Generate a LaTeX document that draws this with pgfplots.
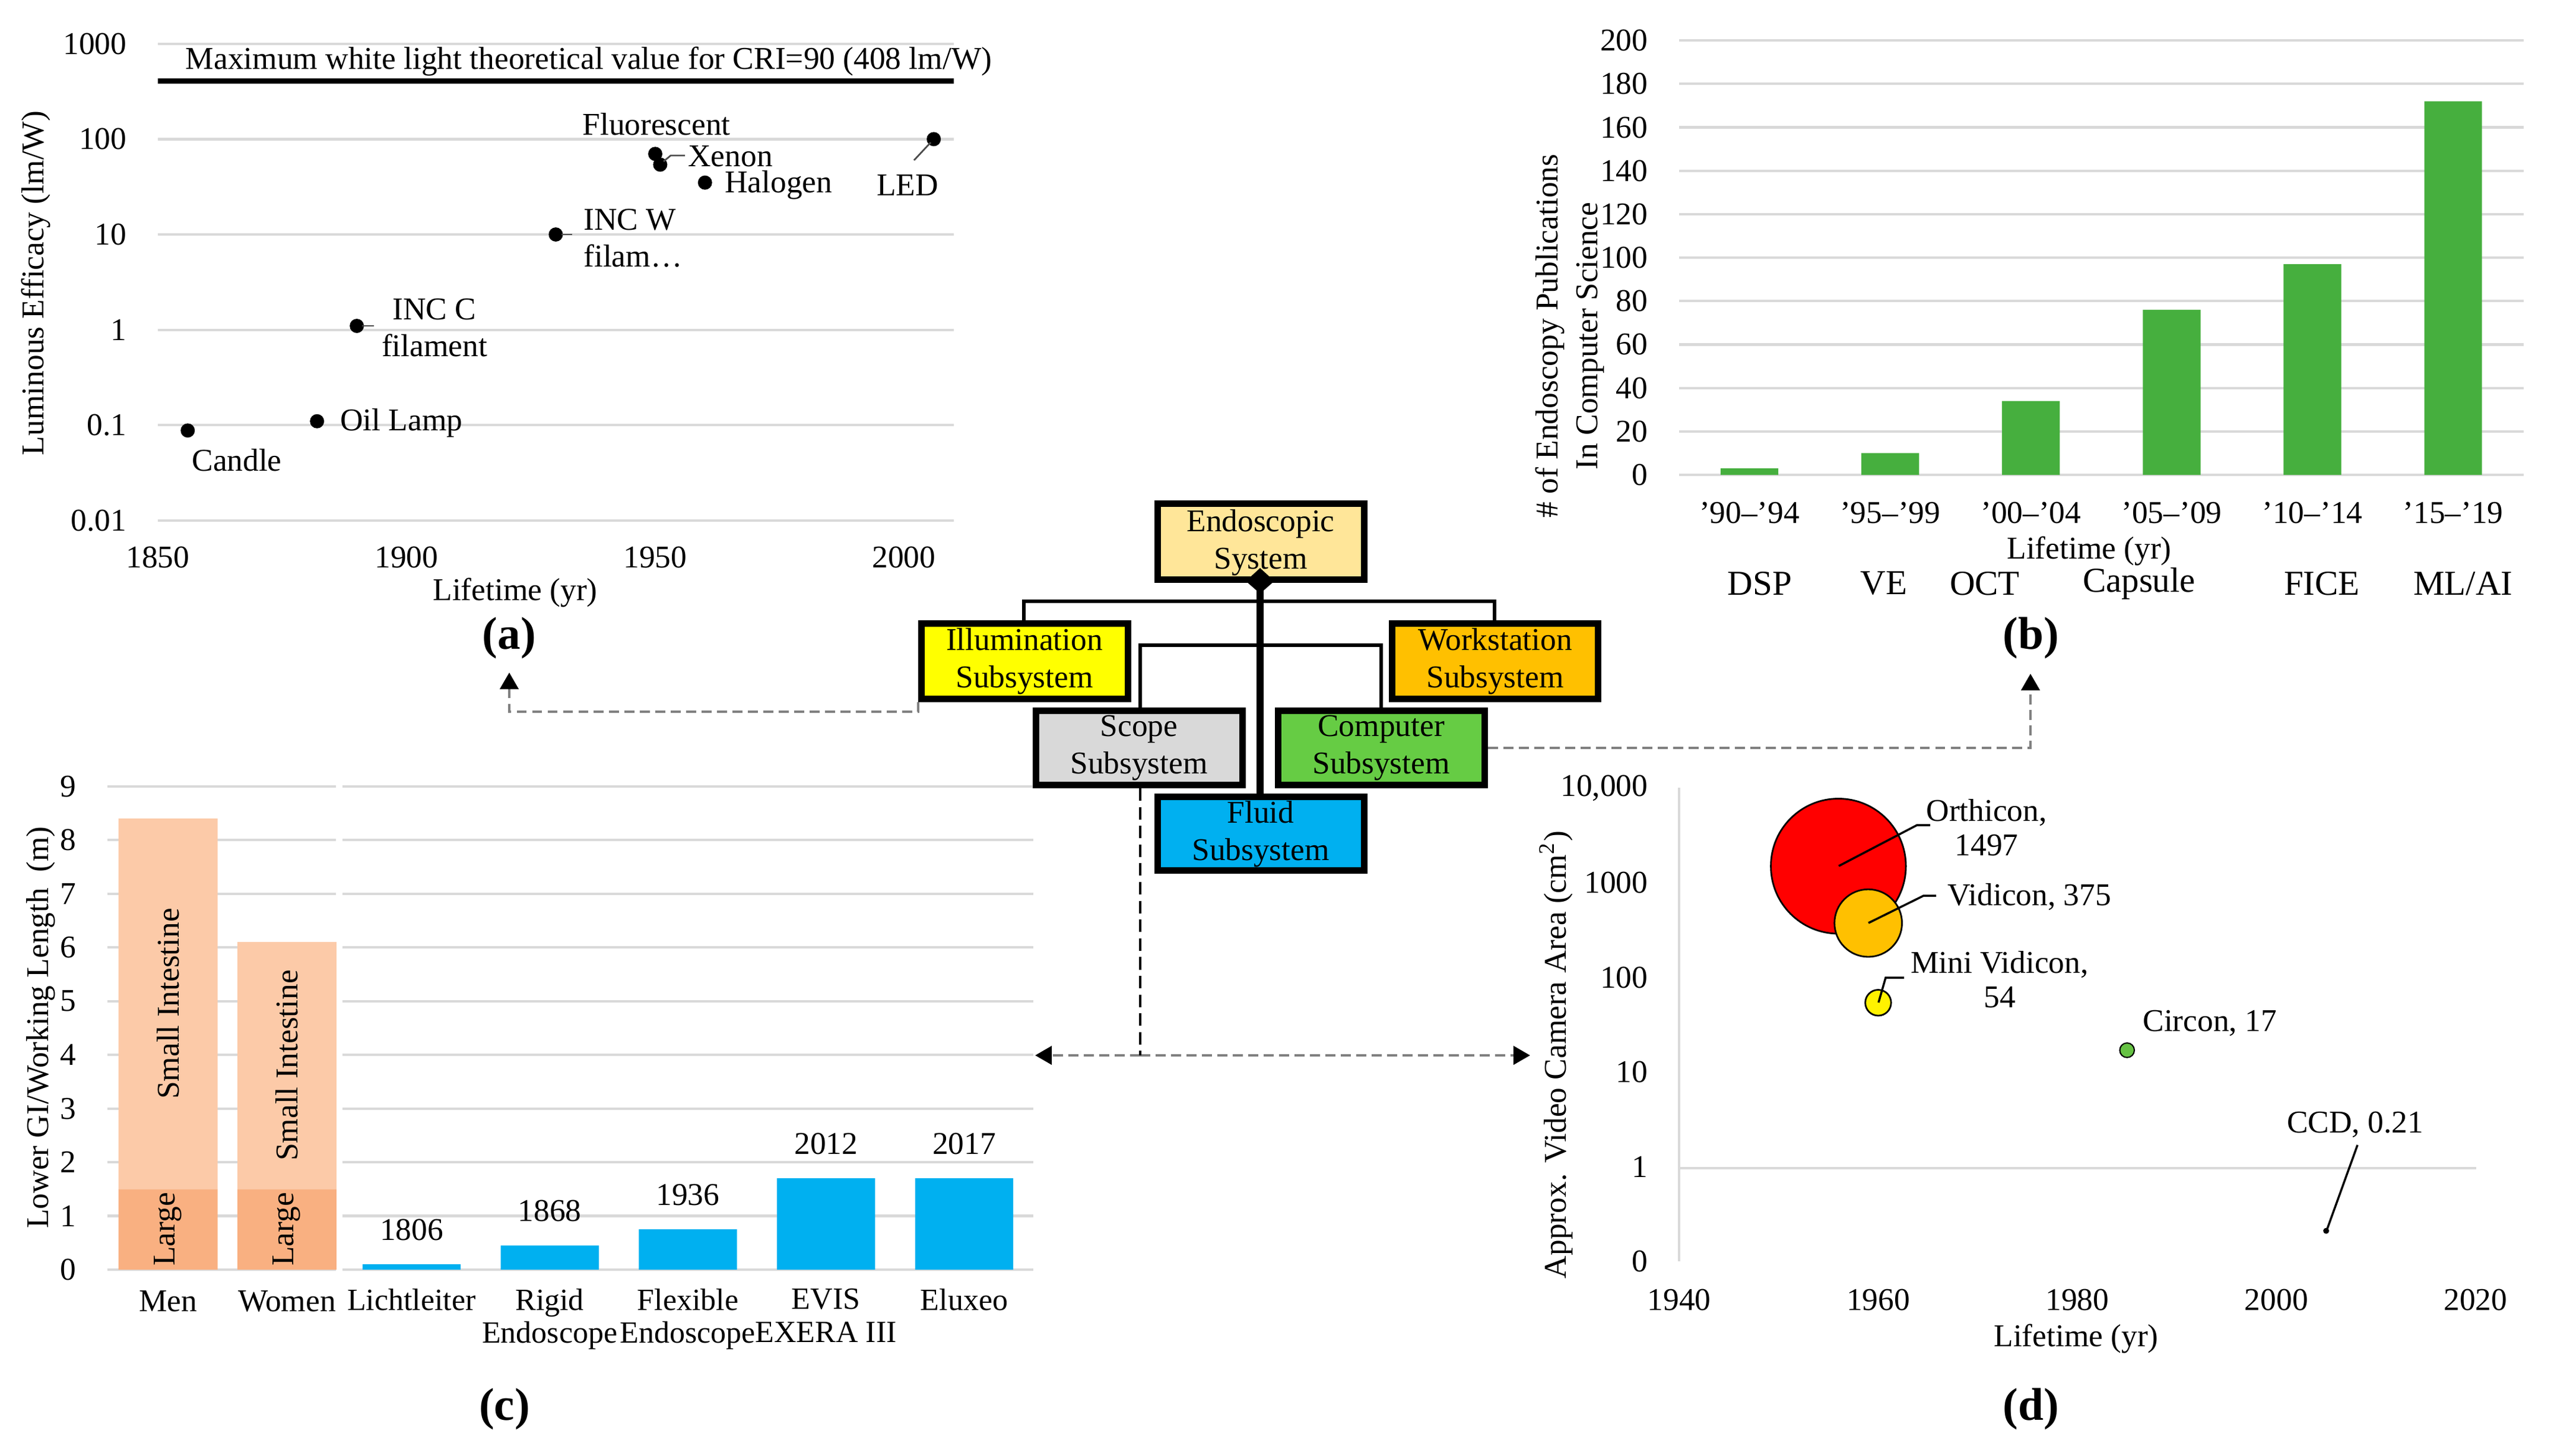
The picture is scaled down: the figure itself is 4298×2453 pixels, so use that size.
\documentclass[border=0pt]{standalone}
\usepackage{fontspec}
\setmainfont{Liberation Serif}
\usepackage{pgfplots}
\pgfplotsset{compat=1.18}
\usetikzlibrary{arrows.meta}

\definecolor{gridgray}{HTML}{D9D9D9}
\definecolor{barGreen}{HTML}{46AF3E}
\definecolor{barBlue}{HTML}{00B0F0}
\definecolor{smallInt}{HTML}{FCCAA8}
\definecolor{largeInt}{HTML}{F9B081}
\definecolor{boxTan}{HTML}{FFE699}
\definecolor{boxYellow}{HTML}{FFFF00}
\definecolor{boxOrange}{HTML}{FFC000}
\definecolor{boxGray}{HTML}{D9D9D9}
\definecolor{boxGreen}{HTML}{66CC44}
\definecolor{dashGray}{HTML}{808080}
\definecolor{circonGreen}{HTML}{66C244}

\newcommand{\txt}{\fontsize{7.6}{8.9}\selectfont}
\newcommand{\lab}{\fontsize{11}{13}\selectfont\bfseries}

\pgfplotsset{
  panel/.style={
    scale only axis,
    anchor=south west,
    axis line style={draw=none},
    tick style={draw=none},
    major grid style={gridgray, line width=0.6pt},
    tick label style={font=\txt},
    yticklabel style={xshift=-4pt},
    /pgf/number format/assume math mode=true,
    /pgf/number format/1000 sep={},
    clip=false,
  },
}

\begin{document}
\begin{tikzpicture}[x=0.005cm, y=-0.005cm, font=\txt]
\useasboundingbox (0,0) rectangle (4298,2453);
\coordinate (A0) at (266,877);
\coordinate (B0) at (2829,800);
\coordinate (C0) at (181,2139);
\coordinate (C1) at (577,2139);
\coordinate (D0) at (2829,2125);

% ---------------- (a) luminous efficacy ----------------
\begin{axis}[panel, at={(A0)}, width=6.71cm, height=4.02cm,
  xticklabel style={yshift=-2.7pt},
  xmin=1850, xmax=2010, xtick={1850,1900,1950,2000},
  ymode=log, ymin=0.01, ymax=1000,
  ytick={0.01,0.1,1,10,100,1000},
  yticklabels={0.01,0.1,1,10,100,1000},
  ymajorgrids]
\addplot[black, line width=1.3pt] coordinates {(1850,408) (2010,408)};
\addplot[only marks, mark=*, mark size=1.5pt, black] coordinates {
  (1856,0.088) (1882,0.11) (1890,1.1) (1930,10)
  (1950,70) (1951,54) (1960,35) (2006,100)};
\end{axis}
\node at (992,103) {Maximum white light theoretical value for CRI=90 (408 lm/W)};
\node at (1106,209) {Fluorescent};
\draw[black!70, line width=0.4pt] (1118,272) -- (1130,262) -- (1154,262);
\node[anchor=west, inner sep=0pt] at (1158,263) {Xenon};
\node[anchor=west, inner sep=0pt] at (1220,312) {Halogen};
\node at (1529,312) {LED};
\draw[black!70, line width=0.4pt] (1568,240) -- (1540,270);
\draw[black!70, line width=0.4pt] (946,395) -- (964,395);
\node[anchor=west, align=left, inner sep=0pt] at (982,401) {INC W\\filam\dots};
\draw[black!70, line width=0.4pt] (610,549) -- (630,549);
\node[align=center] at (732,552) {INC C\\filament};
\node[anchor=west, inner sep=0pt] at (572,713) {Oil Lamp};
\node at (399,775) {Candle};
\node[rotate=90] at (60,477) {Luminous Efficacy (lm/W)};
\node at (868,998) {Lifetime (yr)};
\node[font=\lab] at (858,1075) {(a)};

% ---------------- (b) publications ----------------
\begin{axis}[panel, at={(B0)}, width=7.12cm, height=3.6625cm,
  xticklabel style={yshift=1.2pt},
  ymin=0, ymax=200, ytick={0,20,...,200}, ymajorgrids,
  xmin=-0.5, xmax=5.5, xtick={0,...,5},
  xticklabels={'90--'94,'95--'99,'00--'04,'05--'09,'10--'14,'15--'19},
  ybar, bar width=0.41]
\addplot[fill=barGreen, draw=none] coordinates {
  (0,3) (1,10) (2,34) (3,76) (4,97) (5,172)};
\end{axis}
\node[rotate=90, align=center, font=\fontsize{7.6}{9.5}\selectfont] at (2645,566)
  {\# of Endoscopy Publications\\In Computer Science};
\node at (3520,928) {Lifetime (yr)};
\begin{scope}[font=\fontsize{8.4}{10}\selectfont]
\node at (2965,983) {DSP};
\node at (3174,983) {VE};
\node at (3344,983) {OCT};
\node at (3604,983) {Capsule};
\node at (3912,983) {FICE};
\node at (4150,983) {ML/AI};
\end{scope}
\node[font=\lab] at (3422,1075) {(b)};

% ---------------- (c) lengths ----------------
\begin{axis}[panel, at={(C0)}, width=1.925cm, height=4.075cm,
  xticklabel style={yshift=-1.5pt},
  ymin=0, ymax=9, ytick={0,...,9}, ymajorgrids,
  xmin=-0.51, xmax=1.41, xtick={0,1}, xticklabels={Men,Women},
  ybar stacked, bar width=0.833]
\addplot[fill=largeInt, draw=none] coordinates {(0,1.5) (1,1.5)};
\addplot[fill=smallInt, draw=none] coordinates {(0,6.9) (1,4.6)};
\end{axis}
\node[rotate=90] at (283,2071) {Large};
\node[rotate=90] at (483,2071) {Large};
\node[rotate=90] at (283,1691) {Small Intestine};
\node[rotate=90] at (483,1795) {Small Intestine};
\begin{axis}[panel, at={(C1)}, width=5.825cm, height=4.075cm,
  xticklabel style={yshift=3.2pt, align=center, font=\fontsize{7.4}{7.9}\selectfont},
  ymin=0, ymax=9, ytick={0,...,9}, yticklabels={}, ymajorgrids,
  xmin=-0.5, xmax=4.5, xtick={0,...,4},
  xticklabels={Lichtleiter,Rigid\\Endoscope,Flexible\\Endoscope,EVIS\\EXERA III,Eluxeo},
  ybar, bar width=0.71,
  nodes near coords, point meta=explicit symbolic,
  every node near coord/.append style={font=\txt, yshift=2.2pt}]
\addplot[fill=barBlue, draw=none] coordinates {
  (0,0.1) [1806] (1,0.45) [1868] (2,0.75) [1936] (3,1.7) [2012] (4,1.7) [2017]};
\end{axis}
\node[rotate=90] at (69,1731) {Lower GI/Working Length\ \ (m)};
\node[font=\lab] at (850,2374) {(c)};

% ---------------- (d) camera area ----------------
\draw[gridgray, line width=0.6pt] (2829,1327) -- (2829,2125);
\draw[gridgray, line width=0.6pt] (2829,1967.6) -- (4172,1967.6);
\begin{axis}[panel, at={(D0)}, width=6.715cm, height=3.99cm,
  xticklabel style={yshift=-3.2pt},
  xmin=1940, xmax=2020, xtick={1940,1960,...,2020},
  ymode=log, ymin=0.1, ymax=10000,
  ytick={0.1,1,10,100,1000,10000},
  yticklabels={0,1,10,100,1000,{10,000}}]
\addplot[only marks, mark=*, mark size=16.2pt, mark options={fill=red, draw=black, line width=0.4pt}]
  coordinates {(1956,1497)};
\addplot[only marks, mark=*, mark size=8.1pt, mark options={fill=boxOrange, draw=black, line width=0.4pt}]
  coordinates {(1959,375)};
\addplot[only marks, mark=*, mark size=3.1pt, mark options={fill=yellow, draw=black, line width=0.4pt}]
  coordinates {(1960,54)};
\addplot[only marks, mark=*, mark size=1.75pt, mark options={fill=circonGreen, draw=black, line width=0.3pt}]
  coordinates {(1985,17)};
\addplot[only marks, mark=*, mark size=0.5pt, black]
  coordinates {(2005,0.21)};
\end{axis}
\draw[black, line width=0.5pt] (3098,1459) -- (3230,1390) -- (3252,1390);
\draw[black, line width=0.5pt] (3148,1555) -- (3241,1509) -- (3262,1509);
\draw[black, line width=0.5pt] (3165,1689) -- (3177,1647) -- (3208,1647);
\draw[black, line width=0.5pt] (3920,2073) -- (3972,1929);
\node[align=center, font=\fontsize{7.6}{8.3}\selectfont] at (3347,1394) {Orthicon,\\1497};
\node[anchor=west, inner sep=0pt] at (3280,1511) {Vidicon, 375};
\node[align=center, font=\fontsize{7.6}{8.3}\selectfont] at (3369,1650) {Mini Vidicon,\\54};
\node[anchor=west, inner sep=0pt] at (3609,1724) {Circon, 17};
\node at (3968,1895) {CCD, 0.21};
\node[rotate=90] at (2622,1777) {Approx. Video Camera Area (cm\textsuperscript{2})};
\node at (3498,2255) {Lifetime (yr)};
\node[font=\lab] at (3422,2374) {(d)};

% ---------------- dashed connectors ----------------
\begin{scope}[dashGray, line width=0.7pt, dash pattern=on 2.4pt off 1.3pt,
  tip/.style={-{Triangle[black, length=4pt, width=4.4pt]}}]
\draw[tip] (1547,1183) -- (1547,1199) -- (858,1199) -- (858,1133);
\draw[tip] (2507,1260) -- (3421,1260) -- (3421,1135);
\draw[tip] (1921,1778) -- (1744,1778);
\draw[tip] (1921,1778) -- (2578,1778);
\end{scope}
\draw[black, line width=0.5pt, dash pattern=on 3pt off 1.5pt] (1921,1328) -- (1921,1778);

% ---------------- system diagram ----------------
\draw[line width=0.8pt] (1725,1045) -- (1725,1013) -- (2518,1013) -- (2518,1045);
\draw[line width=0.8pt] (1921,1192) -- (1921,1087) -- (2327,1087) -- (2327,1192);
\draw[line width=1.7pt] (2123,979) -- (2123,1337);
\begin{scope}[line width=1.6pt]
\draw[fill=boxTan]    (1950.5,848.5)  rectangle (2298.5,976.5);
\draw[fill=boxYellow] (1552.5,1050.5) rectangle (1900.5,1177.5);
\draw[fill=boxOrange] (2345.5,1050.5) rectangle (2692.5,1177.5);
\draw[fill=boxGray]   (1745.5,1197.5) rectangle (2093.5,1322.5);
\draw[fill=boxGreen]  (2153.5,1197.5) rectangle (2501.5,1322.5);
\draw[fill=barBlue]   (1950.5,1342.5) rectangle (2298.5,1466.5);
\end{scope}
\begin{scope}[every node/.style={align=center, font=\fontsize{7.6}{9}\selectfont}]
\node at (2124,914)  {Endoscopic\\System};
\node at (1726,1114) {Illumination\\Subsystem};
\node at (2519,1114) {Workstation\\Subsystem};
\node at (1919,1260) {Scope\\Subsystem};
\node at (2327,1260) {Computer\\Subsystem};
\node at (2124,1405) {Fluid\\Subsystem};
\end{scope}
\fill (2123,957) -- (2147,979) -- (2123,1000) -- (2099,979) -- cycle;

\end{tikzpicture}
\end{document}
